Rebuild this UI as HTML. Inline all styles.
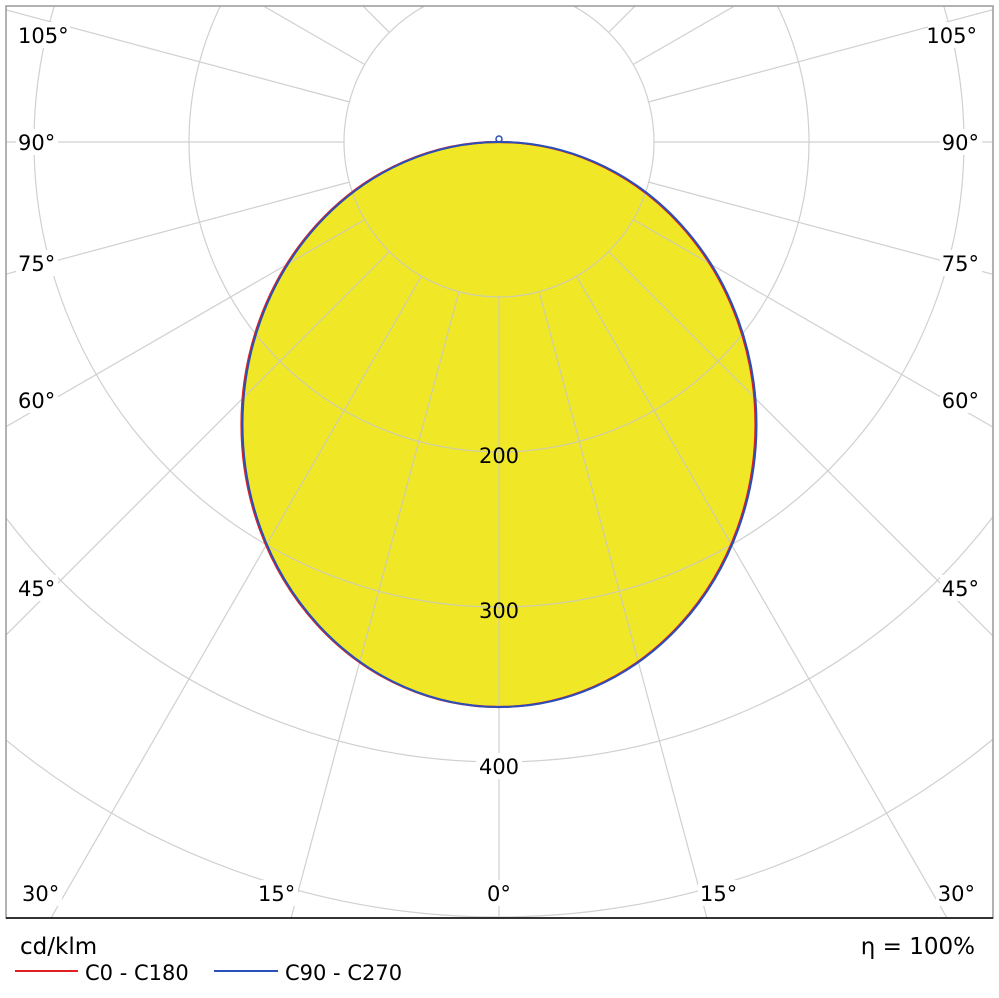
<!DOCTYPE html>
<html><head><style>
html,body{margin:0;padding:0;background:#fff;width:999px;height:998px;overflow:hidden;}
svg{display:block;font-family:"DejaVu Sans","Liberation Sans",sans-serif;}
</style></head><body>
<svg width="999" height="998" viewBox="0 0 999 998" xmlns="http://www.w3.org/2000/svg">
<defs><clipPath id="c"><rect x="6" y="6" width="987" height="912"/></clipPath></defs>
<rect width="999" height="998" fill="#fff"/>
<g clip-path="url(#c)">
<ellipse cx="499" cy="424.5" rx="257" ry="282.5" fill="#f0e827"/>
<g stroke="#c8c8c8" stroke-width="1.2" fill="none" opacity="0.85">
<circle cx="499" cy="142" r="155"/>
<circle cx="499" cy="142" r="310"/>
<circle cx="499" cy="142" r="465"/>
<circle cx="499" cy="142" r="620"/>
<circle cx="499" cy="142" r="775"/>
<circle cx="499" cy="142" r="930"/>
<circle cx="499" cy="142" r="1085"/>
<line x1="499" y1="297" x2="499" y2="1400"/>
<line x1="499" y1="297" x2="499" y2="1400" transform="rotate(15 499 142)"/>
<line x1="499" y1="297" x2="499" y2="1400" transform="rotate(30 499 142)"/>
<line x1="499" y1="297" x2="499" y2="1400" transform="rotate(45 499 142)"/>
<line x1="499" y1="297" x2="499" y2="1400" transform="rotate(60 499 142)"/>
<line x1="499" y1="297" x2="499" y2="1400" transform="rotate(75 499 142)"/>
<line x1="499" y1="297" x2="499" y2="1400" transform="rotate(90 499 142)"/>
<line x1="499" y1="297" x2="499" y2="1400" transform="rotate(105 499 142)"/>
<line x1="499" y1="297" x2="499" y2="1400" transform="rotate(120 499 142)"/>
<line x1="499" y1="297" x2="499" y2="1400" transform="rotate(135 499 142)"/>
<line x1="499" y1="297" x2="499" y2="1400" transform="rotate(150 499 142)"/>
<line x1="499" y1="297" x2="499" y2="1400" transform="rotate(165 499 142)"/>
<line x1="499" y1="297" x2="499" y2="1400" transform="rotate(180 499 142)"/>
<line x1="499" y1="297" x2="499" y2="1400" transform="rotate(-15 499 142)"/>
<line x1="499" y1="297" x2="499" y2="1400" transform="rotate(-30 499 142)"/>
<line x1="499" y1="297" x2="499" y2="1400" transform="rotate(-45 499 142)"/>
<line x1="499" y1="297" x2="499" y2="1400" transform="rotate(-60 499 142)"/>
<line x1="499" y1="297" x2="499" y2="1400" transform="rotate(-75 499 142)"/>
<line x1="499" y1="297" x2="499" y2="1400" transform="rotate(-90 499 142)"/>
<line x1="499" y1="297" x2="499" y2="1400" transform="rotate(-105 499 142)"/>
<line x1="499" y1="297" x2="499" y2="1400" transform="rotate(-120 499 142)"/>
<line x1="499" y1="297" x2="499" y2="1400" transform="rotate(-135 499 142)"/>
<line x1="499" y1="297" x2="499" y2="1400" transform="rotate(-150 499 142)"/>
<line x1="499" y1="297" x2="499" y2="1400" transform="rotate(-165 499 142)"/>
</g>
<ellipse cx="498.5" cy="424.5" rx="257" ry="282.5" fill="none" stroke="#e02020" stroke-width="2.2"/>
<ellipse cx="499.5" cy="424.5" rx="257" ry="282.5" fill="none" stroke="#2a4fb8" stroke-width="2"/>
<circle cx="499" cy="139" r="3" fill="none" stroke="#2a4fb8" stroke-width="1.5"/>
</g>
<rect x="6" y="6" width="987" height="912" fill="none" stroke="#999" stroke-width="1.5"/>
<line x1="6" y1="918" x2="993" y2="918" stroke="#000" stroke-width="1.5"/>
<g font-size="21" fill="#000">
<g fill="#fff"><rect x="16" y="22" width="54" height="26"/><rect x="16" y="129" width="42" height="26"/><rect x="16" y="250" width="42" height="26"/><rect x="16" y="387" width="42" height="26"/><rect x="16" y="575" width="42" height="26"/><rect x="20" y="880" width="42" height="26"/>
<rect x="928" y="22" width="54" height="26"/><rect x="940" y="129" width="42" height="26"/><rect x="940" y="250" width="42" height="26"/><rect x="940" y="387" width="42" height="26"/><rect x="940" y="575" width="42" height="26"/><rect x="936" y="880" width="42" height="26"/>
<rect x="256" y="880" width="42" height="26"/><rect x="698" y="880" width="42" height="26"/><rect x="484" y="880" width="30" height="26"/><rect x="476" y="753" width="46" height="26"/></g>
<text x="18" y="43">105°</text><text x="18" y="150">90°</text><text x="18" y="271">75°</text><text x="18" y="408">60°</text><text x="18" y="596">45°</text><text x="22" y="901">30°</text>
<text x="977" y="43" text-anchor="end">105°</text><text x="979" y="150" text-anchor="end">90°</text><text x="979" y="271" text-anchor="end">75°</text><text x="979" y="408" text-anchor="end">60°</text><text x="979" y="596" text-anchor="end">45°</text><text x="975" y="901" text-anchor="end">30°</text>
<text x="258" y="901">15°</text><text x="700" y="901">15°</text><text x="487" y="901">0°</text>
<text x="499" y="463" text-anchor="middle">200</text><text x="499" y="618" text-anchor="middle">300</text><text x="499" y="774" text-anchor="middle">400</text>
</g>
<g font-size="23" fill="#000">
<text x="20" y="954">cd/klm</text>
<text x="975" y="954" text-anchor="end">η = 100%</text>
</g>
<line x1="15" y1="971" x2="78" y2="971" stroke="#e02020" stroke-width="2"/>
<line x1="214" y1="971" x2="278" y2="971" stroke="#2a4fb8" stroke-width="2"/>
<g font-size="21" fill="#000"><text x="85" y="980">C0 - C180</text><text x="285" y="980">C90 - C270</text></g>
</svg>
</body></html>
